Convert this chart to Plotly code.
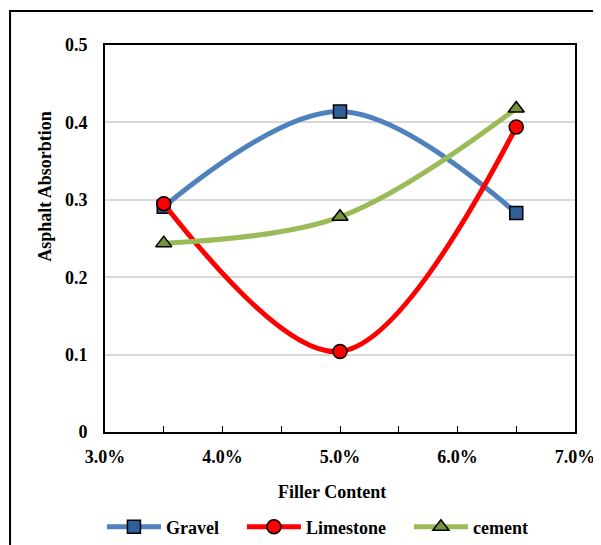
import plotly.graph_objects as go

filler = [0.035, 0.05, 0.065]
gravel = [0.291, 0.414, 0.283]
limestone = [0.295, 0.104, 0.394]
cement = [0.244, 0.278, 0.418]

x_ticks = [0.03, 0.04, 0.05, 0.06, 0.07]
x_tick_labels = ["3.0%", "4.0%", "5.0%", "6.0%", "7.0%"]
y_ticks = [0, 0.1, 0.2, 0.3, 0.4, 0.5]
y_tick_labels = ["0", "0.1", "0.2", "0.3", "0.4", "0.5"]

FONT = "Liberation Serif"
BF = dict(family=FONT, size=18, color="black", weight="bold")
PAD = "\u00a0" * 4

fig = go.Figure()
series = [
    ("Gravel", gravel, "#4F81BD", dict(symbol="square", color="#2F5F98", size=13), PAD),
    ("Limestone", limestone, "#FF0000", dict(symbol="circle", color="#FF0000", size=14), PAD),
    ("cement", cement, "#9BBB59", dict(symbol="triangle-up", color="#76923C", size=14), ""),
]
for name, ys, lc, mk, pad in series:
    fig.add_trace(go.Scatter(
        x=filler, y=ys, name=name + pad, mode="lines+markers",
        line=dict(color=lc, width=5, shape="spline", smoothing=1),
        marker=dict(symbol=mk["symbol"], color=mk["color"], size=mk["size"],
                    line=dict(color="black", width=1.5)),
    ))

fig.update_layout(
    width=601, height=545,
    margin=dict(l=97, r=34, t=37, b=121, autoexpand=False),
    paper_bgcolor="white", plot_bgcolor="white",
    font=BF,
    showlegend=True,
    legend=dict(orientation="h", x=0.452, xanchor="center", xref="paper",
                y=0.0477, yanchor="middle", yref="container",
                font=BF, itemwidth=54, traceorder="normal"),
    xaxis=dict(range=[0.03, 0.07], tickvals=x_ticks, ticktext=x_tick_labels,
               showgrid=False, zeroline=False, showline=True, linecolor="black",
               linewidth=2, mirror=True, ticks="inside", ticklen=6, tickcolor="black",
               minor=dict(dtick=0.005, ticks="inside", ticklen=6, tickcolor="black"),
               tickfont=BF, ticklabelstandoff=7),
    yaxis=dict(range=[0, 0.5], tickvals=y_ticks, ticktext=y_tick_labels,
               showgrid=True, gridcolor="#D9D9D9", gridwidth=1.5, zeroline=False,
               showline=True, linecolor="black", linewidth=2, mirror=True,
               ticks="", tickfont=BF, ticklabelstandoff=12),
)

fig.add_annotation(text="Asphalt Absorbtion", textangle=-90,
                   xref="paper", yref="paper", x=-0.128, y=0.636,
                   xanchor="center", yanchor="middle",
                   showarrow=False, font=BF)
fig.add_annotation(text="Filler Content",
                   xref="paper", yref="paper", x=0.483, y=-0.155,
                   xanchor="center", yanchor="middle",
                   showarrow=False, font=BF)

fig.add_shape(type="rect", xref="paper", yref="paper",
              x0=-0.202, x1=1.2, y0=-0.4, y1=1.088,
              line=dict(color="black", width=2), layer="below")

fig.write_html("out.html")
